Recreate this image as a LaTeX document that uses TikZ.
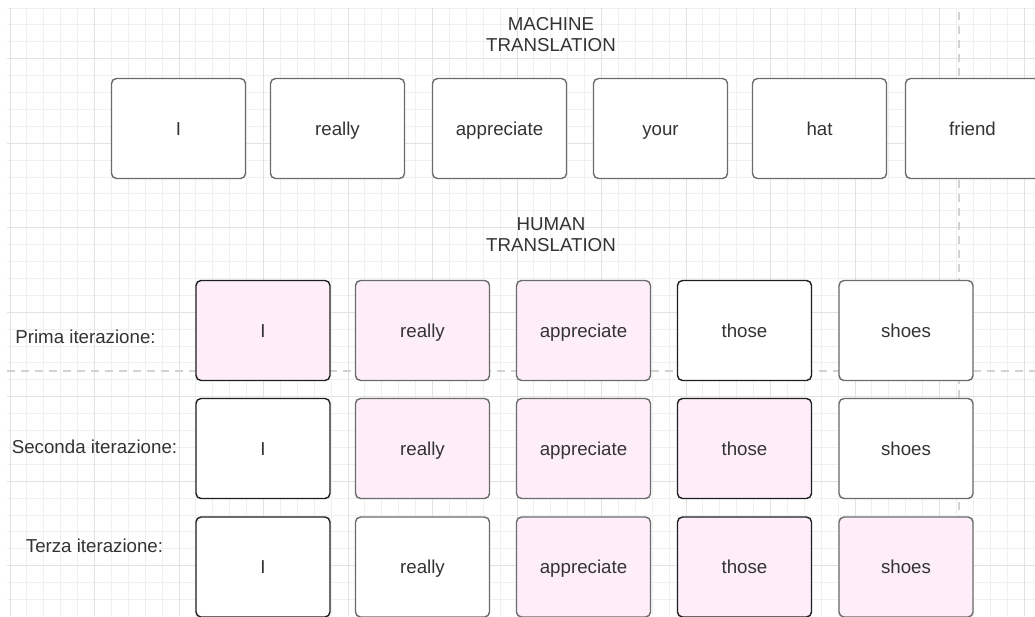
\documentclass[tikz,border=0pt]{standalone}
\usepackage{fontspec}
\setmainfont{Liberation Sans}

\definecolor{ink}{HTML}{333333}
\definecolor{pinkfill}{HTML}{FDEEF9}
\definecolor{edgegray}{HTML}{6B6B6B}
\definecolor{edgedark}{HTML}{1E1E1E}
\definecolor{gridminor}{HTML}{F0F0F0}
\definecolor{gridmajor}{HTML}{E2E2E2}
\definecolor{guide}{HTML}{D2D2D2}

\tikzset{
  word/.style={draw=edgegray, line width=1.4pt, rounded corners=5pt, fill=white,
    minimum width=134pt, minimum height=100pt, inner sep=0pt,
    text=ink, text height=13.4pt, text depth=0pt, font=\fontsize{18.7}{21.5}\selectfont},
  marked/.style={fill=pinkfill},
  strong/.style={draw=edgedark},
  caption/.style={text=ink, align=center, inner sep=0pt, font=\fontsize{18.7}{21.5}\selectfont},
  guideline/.style={guide, line width=1.5pt, dash pattern=on 8pt off 6pt},
}

\begin{document}
\begin{tikzpicture}[x=1pt, y=-1pt]
    \clip (0,0) rectangle (1035,616);
    \fill[white] (0,0) rectangle (1035,616);

    % background grid, a darker line every fifth one
    \foreach \k in {0,...,60}
        \draw[gridminor, line width=1pt] ({10+16.9*\k},8) -- ({10+16.9*\k},616);
    \foreach \k in {0,...,35}
        \draw[gridminor, line width=1pt] (7,{8+16.9*\k}) -- (1035,{8+16.9*\k});
    \foreach \k in {0,5,...,60}
        \draw[gridmajor, line width=1pt] ({10+16.9*\k},8) -- ({10+16.9*\k},616);
    \foreach \k in {3,8,...,33}
        \draw[gridmajor, line width=1pt] (7,{8+16.9*\k}) -- (1035,{8+16.9*\k});

    % page guides
    \coordinate (vtop) at (959,12);
    \coordinate (vbot) at (959,616);
    \coordinate (hleft) at (7,371);
    \coordinate (hright) at (1035,371);
    \draw[guideline] (vtop) -- (vbot);
    \draw[guideline] (hleft) -- (hright);

    \node[caption] (mtitle) at (551,34.5) {MACHINE\\TRANSLATION};
    \node[caption] (htitle) at (551,234.5) {HUMAN\\TRANSLATION};

    % machine output
    \node[word] (m1) at (178.5,128.5) {I};
    \node[word] (m2) at (337.5,128.5) {really};
    \node[word] (m3) at (499.5,128.5) {appreciate};
    \node[word] (m4) at (660.5,128.5) {your};
    \node[word] (m5) at (819.5,128.5) {hat};
    \node[word] (m6) at (972.5,128.5) {friend};

    % first pass
    \node[caption, anchor=base] (lp) at (85.5,343) {Prima iterazione:};
    \node[word, marked, strong] (p1) at (263,330.5) {I};
    \node[word, marked] (p2) at (422.5,330.5) {really};
    \node[word, marked] (p3) at (583.5,330.5) {appreciate};
    \node[word, strong] (p4) at (744.5,330.5) {those};
    \node[word] (p5) at (906,330.5) {shoes};

    % second pass
    \node[caption, anchor=base] (ls) at (94.5,453.3) {Seconda iterazione:};
    \node[word, strong] (s1) at (263,448.5) {I};
    \node[word, marked] (s2) at (422.5,448.5) {really};
    \node[word, marked] (s3) at (583.5,448.5) {appreciate};
    \node[word, marked, strong] (s4) at (744.5,448.5) {those};
    \node[word] (s5) at (906,448.5) {shoes};

    % third pass
    \node[caption, anchor=base] (lt) at (94.5,552.3) {Terza iterazione:};
    \node[word, strong] (t1) at (263,567) {I};
    \node[word] (t2) at (422.5,567) {really};
    \node[word, marked] (t3) at (583.5,567) {appreciate};
    \node[word, marked, strong] (t4) at (744.5,567) {those};
    \node[word, marked] (t5) at (906,567) {shoes};
\end{tikzpicture}
\end{document}
